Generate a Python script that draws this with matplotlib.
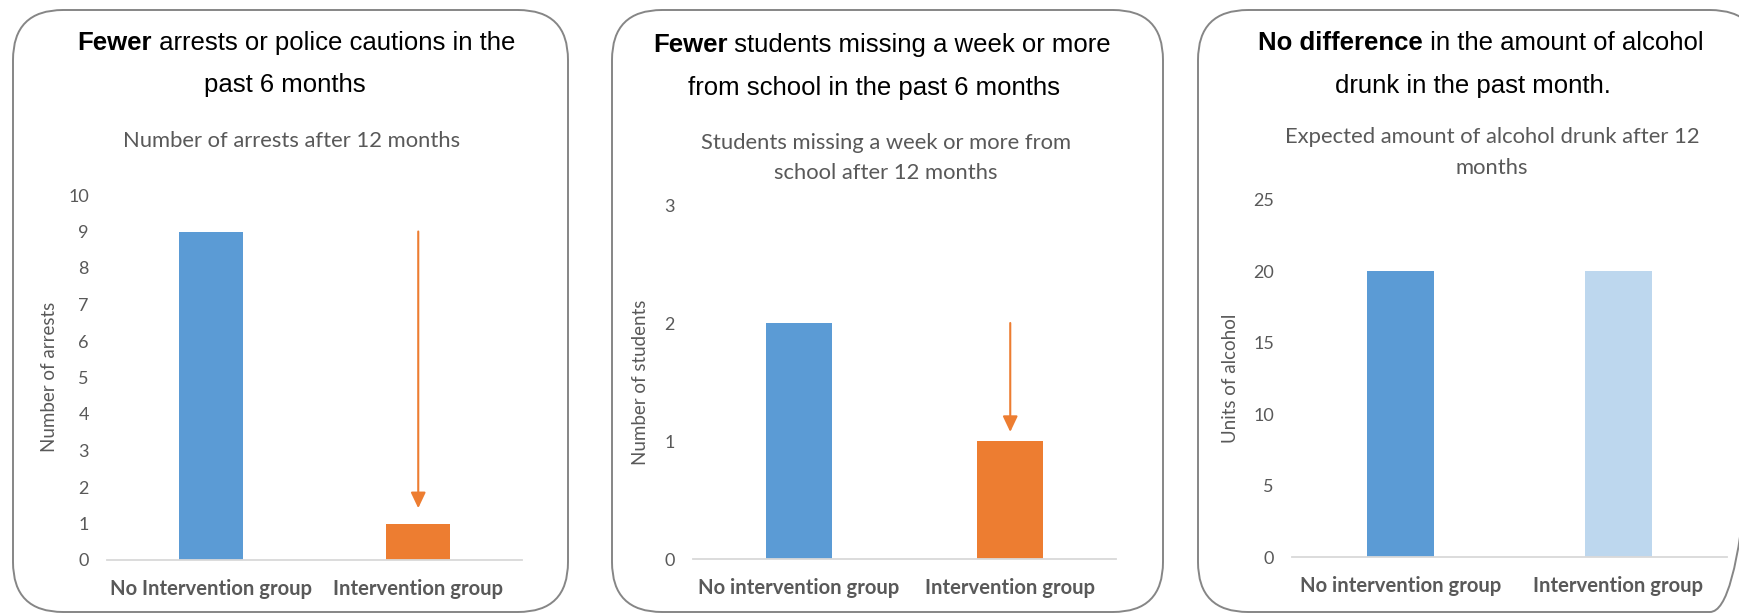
import matplotlib
matplotlib.use("Agg")
import matplotlib.pyplot as plt
from matplotlib.patches import FancyBboxPatch

# ---------------- data ----------------
groups_a = ["No Intervention group", "Intervention group"]
groups_b = ["No intervention group", "Intervention group"]
arrests = [9, 1]
students_missing = [2, 1]
alcohol_units = [20, 20]

titles = [
    [[("Fewer", "bold"), (" arrests or police cautions in the", "normal")],
     [("past 6 months", "normal")]],
    [[("Fewer", "bold"), (" students missing a week or more", "normal")],
     [("from school in the past 6 months", "normal")]],
    [[("No difference", "bold"), (" in the amount of alcohol", "normal")],
     [("drunk in the past month.", "normal")]],
]
subtitles = [
    ["Number of arrests after 12 months"],
    ["Students missing a week or more from", "school after 12 months"],
    ["Expected amount of alcohol drunk after 12", "months"],
]
ylabels = ["Number of arrests", "Number of students", "Units of alcohol"]
yticks = [list(range(0, 11)), [0, 1, 2, 3], [0, 5, 10, 15, 20, 25]]

BLUE = "#5B9BD5"
ORANGE = "#ED7D31"
LIGHTBLUE = "#BDD7EE"
GRAY = "#595959"

W, H = 1739, 613
fig = plt.figure(figsize=(W / 100, H / 100), dpi=100)
fig.patch.set_facecolor("white")

# background axes in pixel coordinates
bg = fig.add_axes([0, 0, 1, 1], zorder=0)
bg.set_xlim(0, W)
bg.set_ylim(H, 0)
bg.axis("off")

# rounded panel boxes
boxes = [(13, 10, 568, 612), (612, 10, 1163, 612), (1198, 10, 1760, 612)]
for x0, y0, x1, y1 in boxes:
    bg.add_patch(FancyBboxPatch((x0, y0), x1 - x0, y1 - y0,
                                boxstyle="round,pad=0,rounding_size=50",
                                fc="none", ec="#868686", lw=1.4, clip_on=False))

renderer = fig.canvas.get_renderer()


def rich_line(xc, y, parts, size):
    objs, widths = [], []
    for s, w in parts:
        t = bg.text(0, y, s, fontsize=size, fontweight=w,
                    family="Liberation Sans", va="center", ha="left", color="black")
        objs.append(t)
        widths.append(t.get_window_extent(renderer).width)
    x = xc - sum(widths) / 2
    for t, wd in zip(objs, widths):
        t.set_x(x)
        x += wd


# title / subtitle positions (pixels)
title_pos = [[(296, 43), (285, 85)], [(882, 45), (874, 88)], [(1481, 43), (1473, 86)]]
sub_pos = [[(292, 141)], [(886, 143), (886, 173)], [(1492, 137), (1492, 168)]]
ylab_pos = [(50, 377), (640, 382), (1230, 378)]
# axes rectangles: x_left, x_right, y_zero, y_top (pixels)
ax_rects = [(107, 522, 560, 195), (693, 1116, 559, 205), (1292, 1727, 557, 200)]

panels = [
    (groups_a, arrests, [BLUE, ORANGE], True),
    (groups_b, students_missing, [BLUE, ORANGE], True),
    (groups_b, alcohol_units, [BLUE, LIGHTBLUE], False),
]
shrinks = [11, 6.5, 0]

for i, (cats, vals, cols, arrow) in enumerate(panels):
    for (xc, y), parts in zip(title_pos[i], titles[i]):
        rich_line(xc, y, parts, 18.5)
    for (xc, y), s in zip(sub_pos[i], subtitles[i]):
        bg.text(xc, y, s, fontsize=15.8, family="Lato", color=GRAY,
                ha="center", va="center")
    bg.text(ylab_pos[i][0], ylab_pos[i][1], ylabels[i], rotation=90,
            fontsize=13.5, family="Lato", color=GRAY, ha="center", va="center")

    xl, xr, y0, yt = ax_rects[i]
    ax = fig.add_axes([xl / W, 1 - y0 / H, (xr - xl) / W, (y0 - yt) / H], zorder=1)
    ax.patch.set_alpha(0)
    x = list(range(len(cats)))
    ax.bar(x, vals, width=0.31, color=cols, zorder=2)
    ax.set_xlim(-0.5, len(cats) - 0.5)
    ax.set_ylim(yticks[i][0], yticks[i][-1])
    ax.set_yticks(yticks[i])
    ax.set_xticks(x)
    ax.set_xticklabels(cats, fontsize=14.6, fontweight="bold", family="Lato", color=GRAY)
    for lab in ax.get_yticklabels():
        lab.set_fontsize(13)
        lab.set_family("Lato")
        lab.set_color(GRAY)
    ax.tick_params(axis="both", length=0)
    ax.tick_params(axis="y", pad=13)
    ax.tick_params(axis="x", pad=14)
    for s in ["top", "left", "right"]:
        ax.spines[s].set_visible(False)
    ax.spines["bottom"].set_color("#D9D9D9")
    ax.spines["bottom"].set_linewidth(1.3)
    if arrow:
        ax.annotate("", xy=(1, vals[1]), xytext=(1, vals[0]),
                    arrowprops=dict(arrowstyle="-|>,head_length=0.95,head_width=0.45",
                                    color=ORANGE, lw=1.5, shrinkA=0,
                                    shrinkB=shrinks[i]), zorder=3)

fig.savefig("out.png", dpi=100, facecolor="white")
